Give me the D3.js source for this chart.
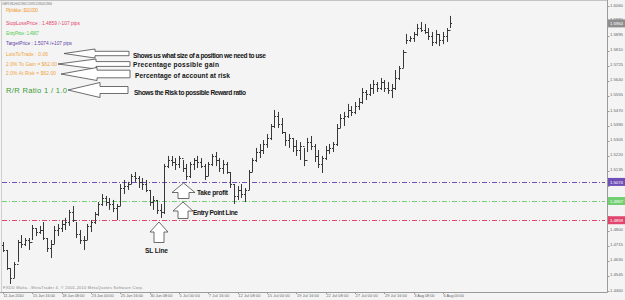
<!DOCTYPE html>
<html>
<head>
<meta charset="utf-8">
<script src="https://cdn.jsdelivr.net/npm/d3@7"></script>
<style>
  body { margin: 0; background: #f4f4f4; }
  svg { display: block; font-family: "Liberation Sans", Arial, sans-serif; }
  .tick-label { fill: #6a6a6a; }
  .note { font-weight: bold; fill: #151515; }
  .arrow { fill: #ffffff; stroke: #4a4a4a; stroke-width: 0.8; }
</style>
</head>
<body>
<div id="wrapper"></div>
<script>

// 1. Data (GBPUSD, one bar per 8 hours)

const highs = [1.4737,1.4692,1.4591,1.4625,1.4748,1.4776,1.4759,1.4759,1.4832,1.4815,
  1.4827,1.4849,1.4759,1.4748,1.4827,1.4838,1.4860,1.4872,1.4917,1.4939,
  1.4849,1.4804,1.4770,1.4838,1.4860,1.4905,1.4961,1.5006,1.4995,1.4984,
  1.4973,1.4950,1.5062,1.5085,1.5074,1.5119,1.5130,1.5107,1.5096,1.5085,
  1.5029,1.4995,1.4973,1.4950,1.5175,1.5220,1.5220,1.5208,1.5220,1.5197,
  1.5175,1.5186,1.5208,1.5220,1.5208,1.5175,1.5186,1.5231,1.5242,1.5208,
  1.5197,1.5186,1.5130,1.5062,1.5051,1.5062,1.5040,1.5141,1.5208,1.5265,
  1.5287,1.5309,1.5343,1.5399,1.5478,1.5467,1.5433,1.5354,1.5343,1.5321,
  1.5309,1.5298,1.5265,1.5321,1.5332,1.5287,1.5253,1.5220,1.5276,1.5287,
  1.5298,1.5399,1.5455,1.5467,1.5512,1.5500,1.5523,1.5545,1.5601,1.5590,
  1.5624,1.5646,1.5635,1.5658,1.5646,1.5635,1.5624,1.5702,1.5725,1.5815,
  1.5905,1.5893,1.5916,1.5961,1.5972,1.5961,1.5938,1.5916,1.5927,1.5905,
  1.5916,1.5938,1.6006];

const lows = [1.4681,1.4580,1.4501,1.4535,1.4625,1.4703,1.4714,1.4692,1.4748,1.4770,
  1.4782,1.4748,1.4681,1.4647,1.4726,1.4770,1.4793,1.4804,1.4827,1.4849,
  1.4759,1.4726,1.4692,1.4748,1.4793,1.4838,1.4883,1.4939,1.4939,1.4917,
  1.4905,1.4860,1.4939,1.5006,1.5029,1.5062,1.5074,1.5040,1.5029,1.5017,
  1.4939,1.4917,1.4894,1.4872,1.4894,1.5152,1.5163,1.5141,1.5152,1.5130,
  1.5085,1.5096,1.5141,1.5152,1.5152,1.5085,1.5107,1.5163,1.5163,1.5130,
  1.5119,1.5119,1.5040,1.4950,1.4973,1.4984,1.4961,1.5029,1.5130,1.5186,
  1.5208,1.5231,1.5265,1.5309,1.5377,1.5377,1.5343,1.5276,1.5265,1.5242,
  1.5220,1.5197,1.5163,1.5242,1.5253,1.5186,1.5152,1.5124,1.5197,1.5231,
  1.5242,1.5276,1.5377,1.5388,1.5433,1.5444,1.5455,1.5478,1.5512,1.5534,
  1.5556,1.5568,1.5579,1.5590,1.5579,1.5568,1.5545,1.5590,1.5646,1.5714,
  1.5848,1.5860,1.5860,1.5893,1.5916,1.5905,1.5871,1.5837,1.5848,1.5837,
  1.5848,1.5860,1.5938];

const closes = [1.4692,1.4591,1.4535,1.4614,1.4737,1.4726,1.4748,1.4737,1.4815,1.4793,
  1.4804,1.4759,1.4703,1.4726,1.4804,1.4815,1.4838,1.4849,1.4905,1.4860,
  1.4782,1.4748,1.4748,1.4827,1.4849,1.4894,1.4950,1.4984,1.4961,1.4950,
  1.4928,1.4939,1.5040,1.5051,1.5062,1.5107,1.5096,1.5074,1.5062,1.5029,
  1.4961,1.4973,1.4917,1.4905,1.5163,1.5197,1.5186,1.5175,1.5208,1.5152,
  1.5107,1.5175,1.5197,1.5186,1.5163,1.5107,1.5175,1.5220,1.5197,1.5152,
  1.5175,1.5130,1.5062,1.4995,1.5029,1.5006,1.5029,1.5130,1.5197,1.5242,
  1.5253,1.5287,1.5321,1.5388,1.5444,1.5399,1.5354,1.5309,1.5321,1.5276,
  1.5253,1.5276,1.5197,1.5298,1.5276,1.5220,1.5175,1.5208,1.5253,1.5265,
  1.5287,1.5377,1.5433,1.5444,1.5478,1.5467,1.5500,1.5523,1.5579,1.5568,
  1.5601,1.5624,1.5601,1.5635,1.5601,1.5590,1.5601,1.5658,1.5714,1.5803,
  1.5871,1.5882,1.5905,1.5938,1.5927,1.5916,1.5893,1.5860,1.5905,1.5871,
  1.5893,1.5927,1.5964];

// each bar opens where the previous one closed
const opens = [1.4720, ...closes.slice(0, -1)];

const priceTicks = [1.6060,1.5980,1.5895,1.5810,1.5725,1.5640,1.5555,1.5470,1.5390,1.5305,
  1.5220,1.5135,1.5050,1.4970,1.4885,1.4800,1.4715,1.4630,1.4545,1.4460];

const timeLabels = ["11 Jun 2010","15 Jun 16:00","18 Jun 08:00","23 Jun 00:00","25 Jun 16:00",
  "30 Jun 08:00","5 Jul 00:00","7 Jul 16:00","12 Jul 08:00","15 Jul 00:00","19 Jul 16:00",
  "22 Jul 08:00","27 Jul 00:00","29 Jul 16:00","3 Aug 08:00","6 Aug 00:00"];
const barsPerLabel = 8;

const levelNames = ["TakeProfit", "Entry", "StopLoss"];
const levelPrices = [1.5074, 1.4967, 1.4859];
const lastPrice = 1.5964;

const infoLines = [
  "PipValue : $10.000",
  "StopLossPrice : 1.4859 /-107 pips",
  "EntryPrice : 1.4967",
  "TargetPrice : 1.5074 /+107 pips",
  "LotsToTrade : 0.06",
  "2.0% To Gain =  $62.00",
  "2.0% At Risk =  $62.00"
];
const headerText = "GBPUSD,H4  1.5961 1.5970 1.5954 1.5964";
const ratioText = "R/R Ratio  1 / 1.0";
const notes = [
  "Shows us what size of a position we need to use",
  "Precentage possible gain",
  "Percentage of account at risk",
  "Shows the Risk to possible Reward ratio"
];
const chartNotes = ["Take profit", "Entry Point Line", "SL Line"];

// 2. Dimensions

const dimensions = {
  width: 625,
  height: 300,
  plotRight: 607,
  plotBottom: 292,
  barLeft: 3,
  barRight: 450.4
};

// 3. Canvas

const svg = d3.select("#wrapper")
  .append("svg")
    .attr("width", dimensions.width)
    .attr("height", dimensions.height);

svg.append("rect")
    .attr("width", dimensions.width)
    .attr("height", dimensions.height)
    .attr("fill", "#f4f4f4");

// 4. Scales

const yScale = d3.scaleLinear()
  .domain([1.6060, 1.4460])
  .range([6.3, 291.3]);

const xScale = d3.scaleLinear()
  .domain([0, highs.length - 1])
  .range([dimensions.barLeft, dimensions.barRight]);

const levelColor = d3.scaleOrdinal()
  .domain(levelNames)
  .range(["#6f4fb8", "#72d072", "#e2466e"]);

const px = v => Math.round(v) + 0.5;

// 5. Frame

svg.append("line")
    .attr("x1", 0).attr("x2", dimensions.plotRight)
    .attr("y1", 0.5).attr("y2", 0.5)
    .attr("stroke", "#c4c4c4");
svg.append("line")
    .attr("x1", 1.5).attr("x2", 1.5)
    .attr("y1", 0).attr("y2", dimensions.plotBottom)
    .attr("stroke", "#d0d0d0");
svg.append("line")
    .attr("x1", dimensions.plotRight + 0.5).attr("x2", dimensions.plotRight + 0.5)
    .attr("y1", 0).attr("y2", dimensions.plotBottom + 0.5)
    .attr("stroke", "#9a9a9a");
svg.append("line")
    .attr("x1", 0).attr("x2", dimensions.plotRight + 0.5)
    .attr("y1", dimensions.plotBottom + 0.5).attr("y2", dimensions.plotBottom + 0.5)
    .attr("stroke", "#9a9a9a");

// 6. Price axis

// labels hidden behind the coloured level boxes are left out
const boxPrices = [lastPrice, ...levelPrices];
const hiddenByBox = d => boxPrices.slice(1).some(p => Math.abs(yScale(p) - yScale(d)) < 6);

const priceAxis = svg.append("g");
priceAxis.selectAll(".price-tick")
  .data(priceTicks)
  .join("line")
    .attr("class", "price-tick")
    .attr("x1", dimensions.plotRight)
    .attr("x2", dimensions.plotRight + 2.5)
    .attr("y1", d => px(yScale(d)))
    .attr("y2", d => px(yScale(d)))
    .attr("stroke", "#9a9a9a");
priceAxis.selectAll(".price-label")
  .data(priceTicks.filter(d => !hiddenByBox(d)))
  .join("text")
    .attr("class", "tick-label price-label")
    .attr("x", 610)
    .attr("y", d => yScale(d) + 0.2)
    .attr("font-size", 4.4)
    .attr("textLength", 13)
    .text(d => d.toFixed(4));

// time axis
const timeAxis = svg.append("g");
timeAxis.selectAll(".time-tick")
  .data(timeLabels)
  .join("line")
    .attr("class", "time-tick")
    .attr("x1", (d, i) => px(xScale(i * barsPerLabel)))
    .attr("x2", (d, i) => px(xScale(i * barsPerLabel)))
    .attr("y1", dimensions.plotBottom)
    .attr("y2", dimensions.plotBottom + 2)
    .attr("stroke", "#9a9a9a");
timeAxis.selectAll(".time-label")
  .data(timeLabels)
  .join("text")
    .attr("class", "tick-label time-label")
    .attr("x", (d, i) => xScale(i * barsPerLabel) + 0.5)
    .attr("y", 297.3)
    .attr("font-size", 4)
    .attr("textLength", d => d.length * 1.85)
    .text(d => d);

// 7. Level lines

svg.append("g").selectAll("line")
  .data(levelNames)
  .join("line")
    .attr("x1", 2)
    .attr("x2", dimensions.plotRight - 2)
    .attr("y1", (d, i) => px(yScale(levelPrices[i])))
    .attr("y2", (d, i) => px(yScale(levelPrices[i])))
    .attr("stroke", d => levelColor(d))
    .attr("stroke-width", 1)
    .attr("stroke-dasharray", "5,2,1,2");

// 8. Bars

const barIds = d3.range(highs.length);
const bars = svg.append("g")
    .attr("stroke", "#383838")
    .attr("stroke-width", 1);

bars.selectAll(".bar-range")
  .data(barIds)
  .join("line")
    .attr("class", "bar-range")
    .attr("x1", i => px(xScale(i)))
    .attr("x2", i => px(xScale(i)))
    .attr("y1", i => yScale(highs[i]))
    .attr("y2", i => yScale(lows[i]));

bars.selectAll(".bar-open")
  .data(barIds)
  .join("line")
    .attr("class", "bar-open")
    .attr("x1", i => px(xScale(i)) - 1.5)
    .attr("x2", i => px(xScale(i)))
    .attr("y1", i => px(yScale(opens[i])))
    .attr("y2", i => px(yScale(opens[i])));

bars.selectAll(".bar-close")
  .data(barIds)
  .join("line")
    .attr("class", "bar-close")
    .attr("x1", i => px(xScale(i)))
    .attr("x2", i => px(xScale(i)) + 1.5)
    .attr("y1", i => px(yScale(closes[i])))
    .attr("y2", i => px(yScale(closes[i])));

// 9. Price boxes on the axis

const boxes = svg.append("g");
const boxData = [
  { price: lastPrice, color: "#8e8e8e" },
  ...levelNames.map((d, i) => ({ price: levelPrices[i], color: levelColor(d) }))
];
boxes.selectAll("rect")
  .data(boxData)
  .join("rect")
    .attr("x", dimensions.plotRight + 1)
    .attr("y", d => yScale(d.price) - 4)
    .attr("width", 18)
    .attr("height", 8)
    .attr("fill", d => d.color);
boxes.selectAll("text")
  .data(boxData)
  .join("text")
    .attr("x", 610)
    .attr("y", d => yScale(d.price) + 1.6)
    .attr("font-size", 4.4)
    .attr("textLength", 13)
    .attr("fill", "#ffffff")
    .text(d => d.price.toFixed(4));

// 10. Text block

svg.append("text")
    .attr("x", 2)
    .attr("y", 4.6)
    .attr("font-size", 3.6)
    .attr("textLength", 50)
    .attr("fill", "#8a8a8a")
    .text(headerText);

const infoColors = ["#f0a23a", "#e23e68", "#5ccf5c", "#5e3fa6", "#f0a23a", "#f0a23a", "#f0a23a"];
const infoBaselines = [12, 25, 35, 44.5, 55.5, 66, 75.2];
const infoWidths = [32, 74, 33, 66, 42, 51, 50];

svg.append("g").selectAll("text")
  .data(infoLines)
  .join("text")
    .attr("x", 6)
    .attr("y", (d, i) => infoBaselines[i])
    .attr("font-size", 4.8)
    .attr("textLength", (d, i) => infoWidths[i])
    .attr("fill", (d, i) => infoColors[i])
    .text(d => d);

svg.append("text")
    .attr("x", 6)
    .attr("y", 93)
    .attr("font-size", 7.6)
    .attr("textLength", 61)
    .attr("fill", "#3a9a3a")
    .text(ratioText);

// 11. Arrows + notes

const leftArrow = ({ tip, y, head, headH, shaftH, end }) =>
  `M${tip},${y} L${head},${y - headH} L${head},${y - shaftH} L${end},${y - shaftH}` +
  ` L${end},${y + shaftH} L${head},${y + shaftH} L${head},${y + headH} Z`;

const upArrow = ({ x, tip, head, headW, shaftW, end }) =>
  `M${x},${tip} L${x + headW},${head} L${x + shaftW},${head} L${x + shaftW},${end}` +
  ` L${x - shaftW},${end} L${x - shaftW},${head} L${x - headW},${head} Z`;

const leftArrows = [
  { tip: 64, y: 53.5, head: 95, headH: 4.5, shaftH: 2.2, end: 129 },
  { tip: 58, y: 64, head: 96, headH: 5, shaftH: 2.4, end: 130 },
  { tip: 61, y: 74, head: 97, headH: 6.5, shaftH: 3.8, end: 130 },
  { tip: 68, y: 90, head: 100, headH: 7.5, shaftH: 3.5, end: 128 }
];
const upArrows = [
  { x: 183.5, tip: 183, head: 192.5, headW: 11.5, shaftW: 5.5, end: 198.5 },
  { x: 183, tip: 202, head: 211, headW: 10, shaftW: 5, end: 218.5 },
  { x: 159, tip: 222, head: 232, headW: 9, shaftW: 5, end: 242.5 }
];

const arrows = svg.append("g");
arrows.selectAll(".left-arrow")
  .data(leftArrows)
  .join("path")
    .attr("class", "arrow left-arrow")
    .attr("d", leftArrow);
arrows.selectAll(".up-arrow")
  .data(upArrows)
  .join("path")
    .attr("class", "arrow up-arrow")
    .attr("d", upArrow);

const notePos = [
  { x: 133, y: 58.2, w: 133 },
  { x: 133, y: 67.3, w: 86 },
  { x: 135, y: 77.8, w: 95 },
  { x: 134, y: 94.6, w: 112 }
];
svg.append("g").selectAll("text")
  .data(notes)
  .join("text")
    .attr("class", "note")
    .attr("x", (d, i) => notePos[i].x)
    .attr("y", (d, i) => notePos[i].y)
    .attr("font-size", 6.6)
    .attr("textLength", (d, i) => notePos[i].w)
    .text(d => d);

const chartNotePos = [
  { x: 197, y: 195.2, w: 31 },
  { x: 193, y: 215.2, w: 45 },
  { x: 145, y: 252.6, w: 23 }
];
svg.append("g").selectAll("text")
  .data(chartNotes)
  .join("text")
    .attr("class", "note")
    .attr("x", (d, i) => chartNotePos[i].x)
    .attr("y", (d, i) => chartNotePos[i].y)
    .attr("font-size", 6.6)
    .attr("textLength", (d, i) => chartNotePos[i].w)
    .text(d => d);

svg.append("text")
    .attr("x", 3)
    .attr("y", 289)
    .attr("font-size", 4)
    .attr("textLength", 140)
    .attr("fill", "#8a8a8a")
    .text("FXDD Malta - MetaTrader 4, © 2001-2010 MetaQuotes Software Corp.");

</script>
</body>
</html>
